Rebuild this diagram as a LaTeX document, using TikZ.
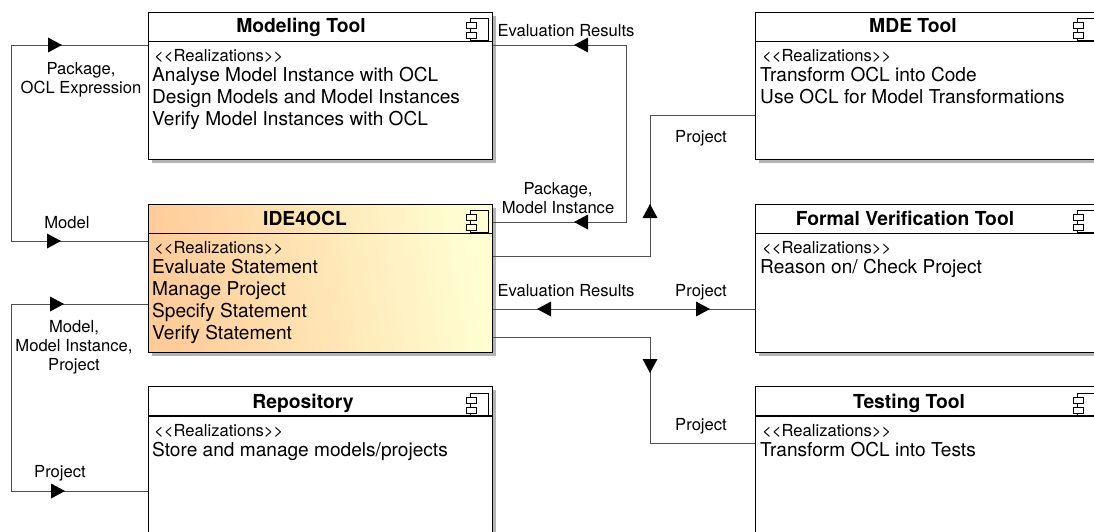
\documentclass[tikz,border=0pt]{standalone}
\usepackage{fontspec}
\setmainfont{TeX Gyre Heros}
\definecolor{wire}{HTML}{505050}
\definecolor{shadowc}{HTML}{B4B4B4}
\definecolor{warmA}{HTML}{FFCC99}
\definecolor{warmB}{HTML}{FFFFD2}
\newcommand\headat[3]{\fill[black,shift={(#1,#2)},rotate=#3] (-7,-7.5)--(7,0)--(-7,7.5)--cycle;}
\newcommand\compicon[3]{%
  \begin{scope}[shift={(#1,#2)},line width=.9pt]
    \draw (4,0) rectangle (22,22);
    \draw[fill=#3] (0,4) rectangle (10.5,10);
    \draw[fill=#3] (0,14) rectangle (10.5,20);
  \end{scope}}
\tikzset{
  box/.style={draw=black,line width=1.2pt,fill=white,rectangle,inner sep=0pt,minimum width=344pt,anchor=north west},
  bodytext/.style={font=\fontsize{19.1}{19.1}\selectfont,anchor=base west,inner sep=0pt},
  stereo/.style={font=\fontsize{16.6}{16.6}\selectfont,anchor=base west,inner sep=0pt},
  titletext/.style={font=\fontsize{19.3}{19.3}\selectfont\bfseries,anchor=base,inner sep=0pt},
  lab/.style={font=\fontsize{16.6}{16.6}\selectfont,anchor=base,inner sep=0pt},
  labm/.style={font=\fontsize{16.6}{19}\selectfont,align=center,inner sep=0pt},
  wireline/.style={draw=wire,line width=1pt},
  divider/.style={black,line width=1.1pt},
}
\begin{document}
\begin{tikzpicture}[x=1pt,y=-1pt]
\useasboundingbox (0,0) rectangle (1094,531);
\clip (0,0) rectangle (1094,531);
% shadows
\fill[shadowc] (152,16) rectangle (496,163);
\fill[shadowc] (152,208) rectangle (496,356);
\fill[shadowc] (152,390) rectangle (496,540);
\fill[shadowc] (759,16) rectangle (1103,163);
\fill[shadowc] (759,208) rectangle (1103,356);
\fill[shadowc] (759,390) rectangle (1103,540);
% boxes
\node[box,minimum height=147pt] (mod) at (148,12) {};
\node[box,minimum height=148pt,left color=warmA,right color=warmB,shading angle=100] (ide) at (148,204) {};
\node[box,minimum height=160pt] (rep) at (148,386) {};
\node[box,minimum height=147pt] (mde) at (755,12) {};
\node[box,minimum height=148pt] (fv) at (755,204) {};
\node[box,minimum height=160pt] (tst) at (755,386) {};
% dividers
\draw[divider] (148,41.5)--(492,41.5) (148,233.5)--(492,233.5) (148,416)--(492,416);
\draw[divider] (755,41.5)--(1099,41.5) (755,233.5)--(1099,233.5) (755,416)--(1099,416);
% icons
\compicon{466}{18}{white}\compicon{466}{210}{warmB}\compicon{466}{393}{white}
\compicon{1073}{18}{white}\compicon{1073}{210}{white}\compicon{1073}{393}{white}
% titles
\node[titletext] (t1) at (301,32.7) {Modeling Tool};
\node[titletext] (t2) at (305,225) {IDE4OCL};
\node[titletext] (t3) at (303,408) {Repository};
\node[titletext] (t4) at (913,32.7) {MDE Tool};
\node[titletext] (t5) at (905,225) {Formal Verification Tool};
\node[titletext] (t6) at (909,408) {Testing Tool};
% body
\node[stereo] (s1) at (154,61) {<{}<Realizations>{}>};
\node[bodytext] (b11) at (152,81) {Analyse Model Instance with OCL};
\node[bodytext] (b12) at (152,103) {Design Models and Model Instances};
\node[bodytext] (b13) at (152,125) {Verify Model Instances with OCL};
\node[stereo] (s2) at (154,253) {<{}<Realizations>{}>};
\node[bodytext] (b21) at (152,273) {Evaluate Statement};
\node[bodytext] (b22) at (152,295) {Manage Project};
\node[bodytext] (b23) at (152,317) {Specify Statement};
\node[bodytext] (b24) at (152,339) {Verify Statement};
\node[stereo] (s3) at (154,436) {<{}<Realizations>{}>};
\node[bodytext] (b31) at (152,456) {Store and manage models/projects};
\node[stereo] (s4) at (762,61) {<{}<Realizations>{}>};
\node[bodytext] (b41) at (760,81) {Transform OCL into Code};
\node[bodytext] (b42) at (760,103) {Use OCL for Model Transformations};
\node[stereo] (s5) at (762,253) {<{}<Realizations>{}>};
\node[bodytext] (b51) at (760,273) {Reason on/ Check Project};
\node[stereo] (s6) at (762,436) {<{}<Realizations>{}>};
\node[bodytext] (b61) at (760,456) {Transform OCL into Tests};
% connector ends
\coordinate (modL) at (mod.west |- 0,45);
\coordinate (ideL) at (ide.west |- 0,241);
\coordinate (ideL2) at (ide.west |- 0,304);
\coordinate (repL) at (rep.west |- 0,491);
\coordinate (modR) at (mod.east |- 0,45);
\coordinate (ideR1) at (ide.east |- 0,222);
\coordinate (ideR2) at (ide.east |- 0,256);
\coordinate (ideR3) at (ide.east |- 0,309);
\coordinate (ideR4) at (ide.east |- 0,337);
\coordinate (mdeL) at (mde.west |- 0,115);
\coordinate (fvL) at (fv.west |- 0,309);
\coordinate (tstL) at (tst.west |- 0,443);
% connectors
\draw[wireline] (modL) -- (11,45) -- (11,241) -- (ideL);
\draw[wireline] (ideL2) -- (11,304) -- (11,491) -- (repL);
\draw[wireline] (modR) -- (626.5,45) -- (626.5,222) -- (ideR1);
\draw[wireline] (ideR2) -- (650,256) -- (650,115) -- (mdeL);
\draw[wireline] (ideR3) -- (fvL);
\draw[wireline] (ideR4) -- (650,337) -- (650,443) -- (tstL);
% arrowheads
\headat{55}{45}{0}
\headat{54}{241}{0}
\headat{57}{304}{0}
\headat{58}{491}{0}
\headat{581}{45}{180}
\headat{581}{222}{180}
\headat{650}{211}{90}
\headat{544}{309}{180}
\headat{703}{309}{0}
\headat{650}{366}{-90}
% labels
\node[lab] (l1) at (566,36) {Evaluation Results};
\node[labm] (l2) at (558,198) {Package,\\Model Instance};
\node[lab] (l3) at (701,142) {Project};
\node[lab] (l4) at (566,296) {Evaluation Results};
\node[lab] (l5) at (701,296) {Project};
\node[lab] (l6) at (701,430) {Project};
\node[labm] (l7) at (81,79.5) {Package,\\OCL Expression};
\node[lab] (l8) at (67,228) {Model};
\node[labm] (l9) at (74,347.5) {Model,\\Model Instance,\\Project};
\node[lab] (l10) at (60,477) {Project};
\end{tikzpicture}
\end{document}
